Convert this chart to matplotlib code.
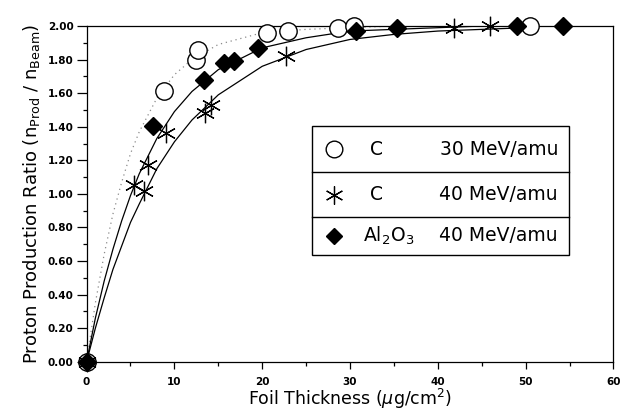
import matplotlib
matplotlib.use("Agg")
import matplotlib.pyplot as plt
from matplotlib.patches import Rectangle
from matplotlib.ticker import MultipleLocator, FormatStrFormatter

c30_x = [0, 8.8, 12.5, 12.7, 20.5, 22.9, 28.6, 30.4, 50.5]
c30_y = [0, 1.615, 1.80, 1.86, 1.96, 1.97, 1.99, 2.00, 2.00]

c40_x = [0, 5.45, 6.55, 6.95, 9.0, 13.5, 14.15, 22.7, 41.8, 45.9]
c40_y = [0, 1.05, 1.02, 1.17, 1.36, 1.48, 1.53, 1.82, 1.99, 2.00]

al_x = [0, 7.6, 13.4, 15.6, 16.8, 19.55, 30.7, 35.3, 49.0, 54.3]
al_y = [0, 1.405, 1.68, 1.78, 1.79, 1.87, 1.97, 1.99, 2.00, 2.00]

# curves
curve_x = [0, 1, 2, 3, 4, 5, 6, 8, 10, 12, 15, 20, 25, 30, 35, 40, 45, 50, 55]
dotted_y = [0, 0.35, 0.64, 0.88, 1.07, 1.24, 1.37, 1.57, 1.71, 1.80, 1.89, 1.96, 1.98, 1.99, 2.00, 2.00, 2.00, 2.00, 2.00]
upper_y = [0, 0.26, 0.48, 0.67, 0.84, 0.99, 1.12, 1.33, 1.49, 1.61, 1.74, 1.87, 1.93, 1.97, 1.98, 1.99, 2.00, 2.00, 2.00]
lower_y = [0, 0.20, 0.38, 0.55, 0.69, 0.83, 0.94, 1.15, 1.31, 1.44, 1.59, 1.76, 1.86, 1.92, 1.95, 1.97, 1.98, 1.99, 1.99]

legend_names = ["C", "C", r"Al$_2$O$_3$"]
legend_energy = ["30 MeV/amu", "40 MeV/amu", "40 MeV/amu"]

STAR = (6, 2, 0)

fig = plt.figure(figsize=(6.23, 4.17), dpi=100)
ax = fig.add_axes([0.139, 0.1326, 0.8456, 0.805])

ax.plot(curve_x[:18], dotted_y[:18], color="#8a8a8a", lw=0.9, ls=(0, (1, 3)))
ax.plot(curve_x, upper_y, color="black", lw=0.9)
ax.plot(curve_x[:18], lower_y[:18], color="black", lw=0.9)

ax.plot(c30_x, c30_y, ls="none", marker="o", ms=12.5, mfc="white", mec="black",
        mew=1.0, clip_on=False, zorder=4)
ax.plot(c40_x, c40_y, ls="none", marker=STAR, ms=14, mec="black", mew=0.9,
        clip_on=False, zorder=5)
ax.plot(al_x, al_y, ls="none", marker="D", ms=9, mfc="black", mec="black",
        clip_on=False, zorder=6)

ax.set_xlim(0, 60)
ax.set_ylim(0, 2.0)
ax.xaxis.set_major_locator(MultipleLocator(10))
ax.xaxis.set_minor_locator(MultipleLocator(5))
ax.yaxis.set_major_locator(MultipleLocator(0.2))
ax.yaxis.set_minor_locator(MultipleLocator(0.1))
ax.yaxis.set_major_formatter(FormatStrFormatter("%.2f"))
ax.tick_params(which="major", direction="out", length=7, width=0.9, labelsize=7.5, pad=2.5)
ax.tick_params(which="minor", direction="out", length=3, width=0.9)
ax.tick_params(axis="x", which="major", length=5, pad=6)
for lab in ax.get_xticklabels() + ax.get_yticklabels():
    lab.set_fontweight("bold")
for sp in ax.spines.values():
    sp.set_linewidth(0.9)

ax.set_xlabel(r"Foil Thickness ($\mu$g/cm$^2$)", fontsize=12.5, labelpad=0)
ax.set_ylabel(r"Proton Production Ratio $\left(\mathregular{n_{Prod}\ /\ n_{Beam}}\right)$",
              fontsize=13, labelpad=4)

# boxed legend with row separators
x0, x1 = 0.427, 0.9155
tops = [0.702, 0.565, 0.431, 0.318]
ax.add_patch(Rectangle((x0, tops[3]), x1 - x0, tops[0] - tops[3], transform=ax.transAxes,
                       facecolor="white", edgecolor="black", lw=1.0, zorder=10))
for yy in tops[1:3]:
    ax.plot([x0, x1], [yy, yy], transform=ax.transAxes, color="black", lw=1.0, zorder=11)
styles = [
    dict(marker="o", ms=12, mfc="white", mec="black", mew=1.0),
    dict(marker=STAR, ms=13, mec="black", mew=0.9),
    dict(marker="D", ms=8.5, mfc="black", mec="black"),
]
for i in range(3):
    yc = (tops[i] + tops[i + 1]) / 2
    ax.plot([0.469], [yc], transform=ax.transAxes, ls="none", zorder=12, clip_on=False, **styles[i])
    ax.text(0.538 if i < 2 else 0.524, yc, legend_names[i], transform=ax.transAxes,
            fontsize=13.5, ha="left", va="center", zorder=12)
    ax.text(0.895, yc, legend_energy[i], transform=ax.transAxes, fontsize=13.5,
            ha="right", va="center", zorder=12)

fig.savefig("out.png", dpi=100)
